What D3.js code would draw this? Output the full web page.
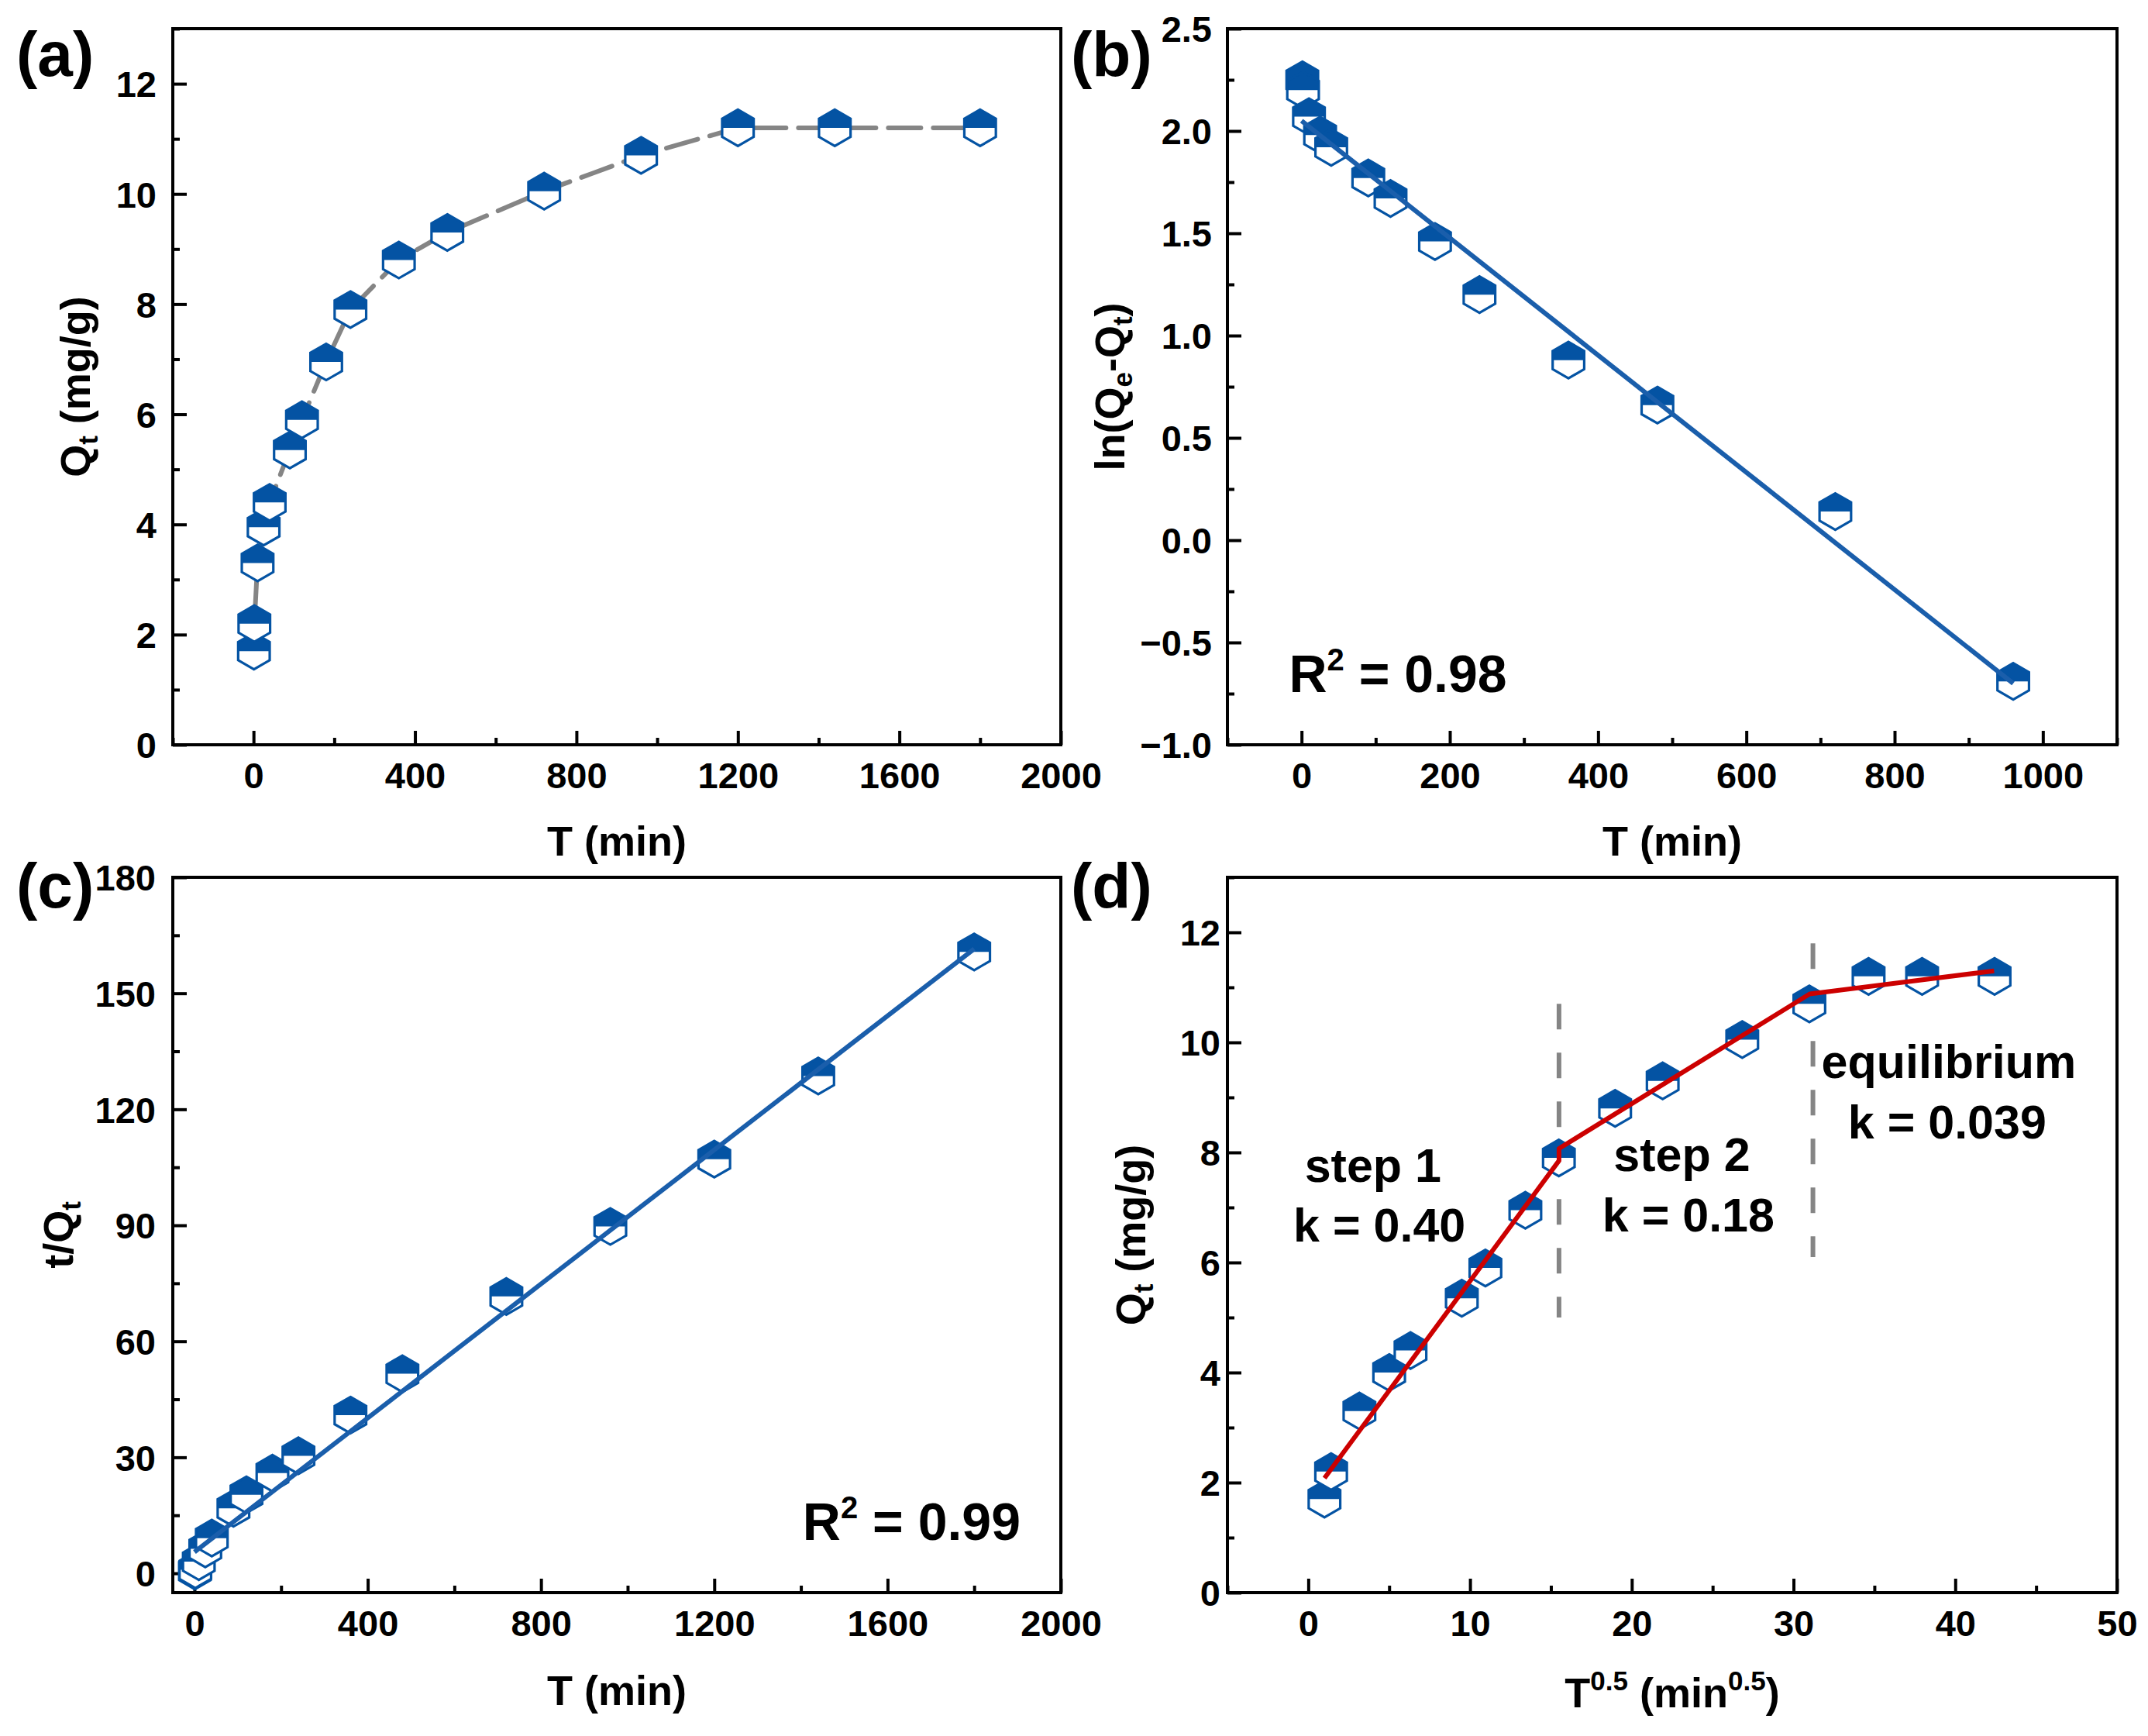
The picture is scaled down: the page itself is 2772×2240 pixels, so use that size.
<!DOCTYPE html>
<html>
<head>
<meta charset="utf-8">
<script src="https://cdn.jsdelivr.net/npm/d3@7"></script>
<style>
  body { margin: 0; background: #fff; }
  svg text { font-family: "Liberation Sans", Arial, sans-serif; font-weight: bold; fill: #000; }
</style>
</head>
<body>
<svg id="chart" width="2772" height="2240"></svg>
<script>
// sampling times (min)
const timeMin = [1, 2, 10, 25, 40, 90, 120, 180, 240, 360, 480, 720, 960, 1200, 1440, 1800];
// (a) Qt vs t
const qtA = [1.7, 2.2, 3.3, 3.95, 4.4, 5.35, 5.9, 6.95, 7.9, 8.8, 9.3, 10.05, 10.7, 11.2, 11.2, 11.2];
// (b) ln(Qe-Qt) vs t, first 13 times
const timeB = timeMin.slice(0, 13);
const lnB = [2.25, 2.2, 2.07, 1.98, 1.92, 1.77, 1.67, 1.46, 1.2, 0.88, 0.66, 0.14, -0.69];
const fitB = [[0, 2.05], [960, -0.70]];
// (c) t/Qt vs t
const tqC = [0.6, 0.9, 3.0, 6.3, 9.1, 16.8, 20.3, 25.9, 30.4, 40.9, 51.6, 71.6, 89.7, 107.1, 128.6, 160.7];
const fitC = [[0, 5.5], [1800, 161.5]];
// (d) Qt vs t^0.5
const sqrtD = [1.0, 1.41, 3.16, 5.0, 6.32, 9.49, 10.95, 13.42, 15.49, 18.97, 21.91, 26.83, 30.98, 34.64, 37.95, 42.43];
const qtD = [1.7, 2.2, 3.3, 4.0, 4.4, 5.35, 5.9, 6.95, 7.9, 8.8, 9.3, 10.05, 10.7, 11.2, 11.2, 11.2];
const fitD = [[1.0, 2.08], [15.5, 7.85], [15.5, 8.07], [31.0, 10.88], [42.4, 11.3]];
const stepDividers = [[15.5, 5.0, 10.7], [31.2, 6.1, 11.8]];

const blue = '#0453A3';
const lineBlue = '#1A5EAB';
const red = '#CC0000';
const gray = '#858585';

const svg = d3.select('#chart');
svg.append('rect').attr('width', 2772).attr('height', 2240).attr('fill', '#fff');

// build one panel frame with inward ticks
function makePanel(o) {
    const x = d3.scaleLinear().domain(o.xDomain).range([o.x0, o.x1]);
    const y = d3.scaleLinear().domain(o.yDomain).range([o.y1, o.y0]);
    const g = svg.append('g');

    const xMinor = o.xMinor.filter(v => !o.xMajor.includes(v));
    const yMinor = o.yMinor.filter(v => !o.yMajor.some(m => Math.abs(m - v) < 1e-9));

    const ax = g.append('g').attr('transform', `translate(0,${o.y1})`)
        .call(d3.axisBottom(x).tickValues(o.xMajor).tickFormat(o.xFmt).tickSizeInner(-18).tickSizeOuter(0).tickPadding(23));
    const axm = g.append('g').attr('transform', `translate(0,${o.y1})`)
        .call(d3.axisBottom(x).tickValues(xMinor).tickFormat('').tickSizeInner(-9).tickSizeOuter(0));
    const ay = g.append('g').attr('transform', `translate(${o.x0},0)`)
        .call(d3.axisLeft(y).tickValues(o.yMajor).tickFormat(o.yFmt).tickSizeInner(-18).tickSizeOuter(0).tickPadding(o.yPad));
    const aym = g.append('g').attr('transform', `translate(${o.x0},0)`)
        .call(d3.axisLeft(y).tickValues(yMinor).tickFormat('').tickSizeInner(-9).tickSizeOuter(0));

    [ax, axm, ay, aym].forEach(a => {
        a.select('.domain').remove();
        a.selectAll('line').attr('stroke', '#000').attr('stroke-width', 4);
        a.selectAll('text').attr('font-size', 47).attr('font-family', '"Liberation Sans", Arial, sans-serif')
            .attr('font-weight', 'bold').attr('fill', '#000');
    });
    ay.selectAll('text').attr('dy', '0.36em');

    g.append('rect').attr('x', o.x0).attr('y', o.y0)
        .attr('width', o.x1 - o.x0).attr('height', o.y1 - o.y0)
        .attr('fill', 'none').attr('stroke', '#000').attr('stroke-width', 4);

    // panel letter
    svg.append('text').attr('x', o.labelX).attr('y', o.labelY).attr('font-size', 82).text(o.label);

    // x title
    const xt = svg.append('text').attr('x', (o.x0 + o.x1) / 2).attr('y', o.xTitleY)
        .attr('text-anchor', 'middle').attr('font-size', 54);
    o.xTitle(xt);
    // y title
    const yt = svg.append('text')
        .attr('transform', `translate(${o.yTitleX},${(o.y0 + o.y1) / 2}) rotate(-90)`)
        .attr('text-anchor', 'middle').attr('font-size', 54);
    o.yTitle(yt);

    return { x, y, g };
}

function hexMarkers(p, xs, ys) {
    const r = 23.5, c = Math.cos(Math.PI / 6);
    const full = [[0, -r], [r * c, -r / 2], [r * c, r / 2], [0, r], [-r * c, r / 2], [-r * c, -r / 2]];
    const top = [[0, -r], [r * c, -r / 2], [r * c, 0], [-r * c, 0], [-r * c, -r / 2]];
    const line = d3.line();
    const pts = xs.map((v, i) => [v, ys[i]]);
    const m = p.g.append('g').selectAll('g').data(pts).enter().append('g')
        .attr('transform', d => `translate(${p.x(d[0])},${p.y(d[1])})`);
    m.append('path').attr('d', line(full) + 'Z').attr('fill', '#fff');
    m.append('path').attr('d', line(top) + 'Z').attr('fill', blue);
    m.append('path').attr('d', line(full) + 'Z').attr('fill', 'none')
        .attr('stroke', blue).attr('stroke-width', 3.2).attr('stroke-linejoin', 'miter');
}

function drawLine(p, pts, color, width, dash) {
    const l = d3.line().x(d => p.x(d[0])).y(d => p.y(d[1]));
    const path = p.g.append('path').datum(pts).attr('d', l)
        .attr('fill', 'none').attr('stroke', color).attr('stroke-width', width)
        .attr('stroke-linejoin', 'round');
    if (dash) path.attr('stroke-dasharray', dash).attr('stroke-linecap', 'round');
    return path;
}

function subTitle(base, sub, rest) {
    return t => {
        t.append('tspan').text(base);
        t.append('tspan').attr('font-size', 35).attr('dy', 10).text(sub);
        t.append('tspan').attr('dy', -10).text(rest);
    };
}

const xTitleTmin = t => t.text('T (min)');

// (a)
const pa = makePanel({
    x0: 223, x1: 1369, y0: 37, y1: 961,
    xDomain: [-200, 2000], yDomain: [0, 13],
    xMajor: d3.range(0, 2001, 400), xMinor: d3.range(-200, 2001, 200),
    yMajor: d3.range(0, 13, 2), yMinor: d3.range(0, 14, 1),
    xFmt: d3.format('d'), yFmt: d3.format('d'), yPad: 21,
    label: '(a)', labelX: 21, labelY: 98,
    xTitleY: 1104, xTitle: xTitleTmin,
    yTitleX: 116, yTitle: subTitle('Q', 't', ' (mg/g)')
});
drawLine(pa, timeMin.map((t, i) => [t, qtA[i]]), gray, 6, '42 16');
hexMarkers(pa, timeMin, qtA);

// (b)
const pb = makePanel({
    x0: 1584, x1: 2732, y0: 37, y1: 961,
    xDomain: [-100, 1100], yDomain: [-1, 2.5],
    xMajor: d3.range(0, 1001, 200), xMinor: d3.range(-100, 1101, 100),
    yMajor: d3.range(-1, 2.51, 0.5), yMinor: d3.range(-1, 2.51, 0.25),
    xFmt: d3.format('d'), yFmt: d3.format('.1f'), yPad: 20,
    label: '(b)', labelX: 1382, labelY: 98,
    xTitleY: 1104, xTitle: xTitleTmin,
    yTitleX: 1451, yTitle: t => {
        t.append('tspan').text('ln(Q');
        t.append('tspan').attr('font-size', 35).attr('dy', 10).text('e');
        t.append('tspan').attr('dy', -10).text('-Q');
        t.append('tspan').attr('font-size', 35).attr('dy', 10).text('t');
        t.append('tspan').attr('dy', -10).text(')');
    }
});
hexMarkers(pb, timeB, lnB);
drawLine(pb, fitB, lineBlue, 6);
const r2b = pb.g.append('text').attr('x', pb.x(-17)).attr('y', 893).attr('font-size', 68);
r2b.append('tspan').text('R');
r2b.append('tspan').attr('font-size', 40).attr('dy', -28).text('2');
r2b.append('tspan').attr('dy', 28).text(' = 0.98');

// (c)
const pc = makePanel({
    x0: 223, x1: 1369, y0: 1132, y1: 2055,
    xDomain: [-50, 2000], yDomain: [-5, 180],
    xMajor: d3.range(0, 2001, 400), xMinor: d3.range(0, 2001, 200),
    yMajor: d3.range(0, 181, 30), yMinor: d3.range(0, 181, 15),
    xFmt: d3.format('d'), yFmt: d3.format('d'), yPad: 22,
    label: '(c)', labelX: 21, labelY: 1171,
    xTitleY: 2200, xTitle: xTitleTmin,
    yTitleX: 94, yTitle: subTitle('t/Q', 't', '')
});
hexMarkers(pc, timeMin, tqC);
drawLine(pc, fitC, lineBlue, 6);
const r2c = pc.g.append('text').attr('x', 1317).attr('y', 1987).attr('font-size', 68).attr('text-anchor', 'end');
r2c.append('tspan').text('R');
r2c.append('tspan').attr('font-size', 40).attr('dy', -28).text('2');
r2c.append('tspan').attr('dy', 28).text(' = 0.99');

// (d)
const pd = makePanel({
    x0: 1584, x1: 2732, y0: 1132, y1: 2055,
    xDomain: [-5, 50], yDomain: [0, 13],
    xMajor: d3.range(0, 51, 10), xMinor: d3.range(-5, 51, 5),
    yMajor: d3.range(0, 13, 2), yMinor: d3.range(0, 14, 1),
    xFmt: d3.format('d'), yFmt: d3.format('d'), yPad: 9,
    label: '(d)', labelX: 1382, labelY: 1171,
    xTitleY: 2203, xTitle: t => {
        t.append('tspan').text('T');
        t.append('tspan').attr('font-size', 35).attr('dy', -22).text('0.5');
        t.append('tspan').attr('dy', 22).text(' (min');
        t.append('tspan').attr('font-size', 35).attr('dy', -22).text('0.5');
        t.append('tspan').attr('dy', 22).text(')');
    },
    yTitleX: 1478, yTitle: subTitle('Q', 't', ' (mg/g)')
});
stepDividers.forEach(s => drawLine(pd, [[s[0], s[2]], [s[0], s[1]]], gray, 6, '33 30').attr('stroke-linecap', 'butt'));
hexMarkers(pd, sqrtD, qtD);
drawLine(pd, fitD, red, 6);

const stepNotes = [
    ['step 1', 4.0, 7.46], ['k = 0.40', 4.4, 6.38],
    ['step 2', 23.1, 7.66], ['k = 0.18', 23.5, 6.56],
    ['equilibrium', 39.6, 9.35], ['k = 0.039', 39.5, 8.25]
];
pd.g.selectAll('.note').data(stepNotes).enter().append('text')
    .attr('class', 'note')
    .attr('x', d => pd.x(d[1])).attr('y', d => pd.y(d[2]))
    .attr('text-anchor', 'middle').attr('font-size', 61)
    .text(d => d[0]);
</script>
</body>
</html>
